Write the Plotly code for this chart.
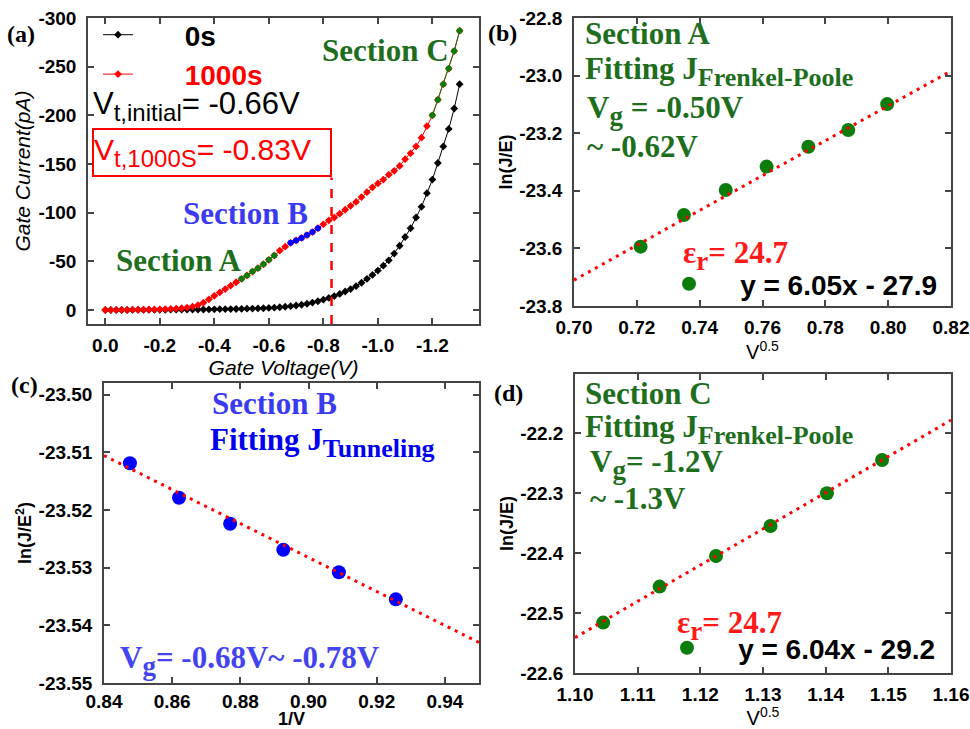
import plotly.graph_objects as go

# ---------------- data ----------------
# (a) gate current vs gate voltage
gate_voltage = [0.00, -0.02, -0.04, -0.06, -0.08, -0.10, -0.12, -0.14, -0.16, -0.18,
                -0.20, -0.22, -0.24, -0.26, -0.28, -0.30, -0.32, -0.34, -0.36, -0.38,
                -0.40, -0.42, -0.44, -0.46, -0.48, -0.50, -0.52, -0.54, -0.56, -0.58,
                -0.60, -0.62, -0.64, -0.66, -0.68, -0.70, -0.72, -0.74, -0.76, -0.78,
                -0.80, -0.82, -0.84, -0.86, -0.88, -0.90, -0.92, -0.94, -0.96, -0.98,
                -1.00, -1.02, -1.04, -1.06, -1.08, -1.10, -1.12, -1.14, -1.16, -1.18,
                -1.20, -1.22, -1.24, -1.26, -1.28, -1.30]
current_0s = [0.0, 0.0, 0.0, 0.0, 0.0, -0.1, -0.1, -0.1, -0.1, -0.2,
              -0.2, -0.2, -0.3, -0.3, -0.3, -0.4, -0.4, -0.5, -0.5, -0.6,
              -0.7, -0.8, -0.8, -0.9, -1.0, -1.1, -1.3, -1.4, -1.6, -1.8,
              -2.1, -2.4, -2.8, -3.3, -3.9, -4.6, -5.4, -6.4, -7.6, -9.0,
              -10.6, -12.4, -14.3, -16.5, -19.0, -21.5, -24.5, -28.0, -32.0, -36.0,
              -40.5, -45.5, -51.0, -58.0, -66.0, -75.0, -84.0, -95.0, -106.0, -120.0,
              -134.0, -151.0, -168.0, -186.0, -207.0, -232.0]
current_1000s = [0.0, -0.1, -0.1, -0.2, -0.2, -0.3, -0.3, -0.4, -0.5, -0.6,
                 -0.7, -0.9, -1.1, -1.4, -1.8, -2.5, -3.5, -5.0, -7.5, -11.0,
                 -14.5, -18.0, -21.5, -25.0, -28.5, -32.0, -35.5, -39.5, -43.0, -47.0,
                 -51.5, -56.0, -61.0, -65.0, -69.0, -71.5, -74.0, -77.0, -80.0, -84.0,
                 -88.0, -92.0, -95.0, -99.0, -103.0, -107.0, -111.0, -116.0, -121.0, -126.0,
                 -130.0, -134.0, -139.0, -143.0, -148.0, -155.0, -161.0, -168.0, -177.0, -189.0,
                 -200.0, -216.0, -232.0, -248.0, -266.0, -287.0]
section_a_range = (-0.50, -0.62)
section_b_range = (-0.68, -0.78)
section_c_range = (-1.20, -1.30)
vt_1000s = -0.83

# (b) Section A, Frenkel-Poole
b_x = [0.7212, 0.7350, 0.7483, 0.7613, 0.7746, 0.7873, 0.7997]
b_y = [-23.594, -23.484, -23.397, -23.316, -23.247, -23.189, -23.099]
b_slope, b_intercept = 6.05, -27.945

# (c) Section B, tunneling
c_x = [0.8476, 0.8620, 0.8770, 0.8926, 0.9089, 0.9256]
c_y = [-23.5119, -23.5179, -23.5224, -23.5269, -23.5308, -23.5355]
c_slope, c_intercept = -0.2945, -23.2632

# (d) Section C, Frenkel-Poole
d_x = [1.1045, 1.1135, 1.1225, 1.1312, 1.1402, 1.1490]
d_y = [-22.516, -22.456, -22.405, -22.355, -22.3005, -22.245]
d_slope, d_intercept = 6.04, -29.185

# tick labels
a_xticks = [0.0, -0.2, -0.4, -0.6, -0.8, -1.0, -1.2]
a_xtext = ["0.0", "-0.2", "-0.4", "-0.6", "-0.8", "-1.0", "-1.2"]
a_yticks = [0, -50, -100, -150, -200, -250, -300]
a_ytext = ["0", "-50", "-100", "-150", "-200", "-250", "-300"]
b_xticks = [0.70, 0.72, 0.74, 0.76, 0.78, 0.80, 0.82]
b_xtext = ["0.70", "0.72", "0.74", "0.76", "0.78", "0.80", "0.82"]
b_yticks = [-23.8, -23.6, -23.4, -23.2, -23.0, -22.8]
b_ytext = ["-23.8", "-23.6", "-23.4", "-23.2", "-23.0", "-22.8"]
c_xticks = [0.84, 0.86, 0.88, 0.90, 0.92, 0.94]
c_xtext = ["0.84", "0.86", "0.88", "0.90", "0.92", "0.94"]
c_yticks = [-23.55, -23.54, -23.53, -23.52, -23.51, -23.50]
c_ytext = ["-23.55", "-23.54", "-23.53", "-23.52", "-23.51", "-23.50"]
d_xticks = [1.10, 1.11, 1.12, 1.13, 1.14, 1.15, 1.16]
d_xtext = ["1.10", "1.11", "1.12", "1.13", "1.14", "1.15", "1.16"]
d_yticks = [-22.6, -22.5, -22.4, -22.3, -22.2]
d_ytext = ["-22.6", "-22.5", "-22.4", "-22.3", "-22.2"]

# ---------------- styling helpers ----------------
W, H = 970, 729
SANS = "Liberation Sans, Arial, sans-serif"
SERIF = "Liberation Serif, Times New Roman, serif"
GREEN_M = "#0c7d0c"
GREEN_T = "#1e6e1e"
BLUE_M = "#0000ff"
RED = "#ff0000"


def px(x):
    return x / W


def py(y):
    return 1 - y / H


def sub(t, size):
    return "<sub><span style='font-size:%dpx'>%s</span></sub>" % (size, t)


a_xrange = [0.0635, -1.371]
a_yrange = [14.4, -300]
b_xrange = [0.70, 0.82]
b_yrange = [-23.8, -22.8]
c_xrange = [0.84, 0.95]
c_yrange = [-23.55, -23.498]
d_xrange = [1.10, 1.16]
d_yrange = [-22.6, -22.1017]

fig = go.Figure()


def in_range(v, r):
    lo, hi = min(r), max(r)
    return lo - 1e-9 <= v <= hi + 1e-9


# ---- panel (a)
fig.add_trace(go.Scatter(
    x=gate_voltage, y=current_0s, mode="lines+markers",
    name="\u00a0" * 6 + "<b>0s</b>",
    line=dict(color="black", width=1),
    marker=dict(symbol="diamond", size=6, color="black"),
    xaxis="x", yaxis="y", legend="legend"))
fig.add_trace(go.Scatter(
    x=gate_voltage, y=current_1000s, mode="lines+markers",
    name="\u00a0" * 6 + "<b><span style='color:#ff0000'>1000s</span></b>",
    line=dict(color=RED, width=1),
    marker=dict(symbol="diamond", size=6, color=RED),
    xaxis="x", yaxis="y", legend="legend"))
for rng, col in [(section_a_range, GREEN_M), (section_b_range, BLUE_M), (section_c_range, GREEN_M)]:
    sx = [v for v in gate_voltage if in_range(v, rng)]
    sy = [i for v, i in zip(gate_voltage, current_1000s) if in_range(v, rng)]
    fig.add_trace(go.Scatter(
        x=sx, y=sy, mode="lines+markers", showlegend=False,
        line=dict(color=col, width=1),
        marker=dict(symbol="circle", size=6, color=col),
        xaxis="x", yaxis="y"))

# ---- panel (b)
fig.add_trace(go.Scatter(
    x=b_x, y=b_y, mode="markers",
    name="\u00a0" * 4 + "<b>y = 6.05x - 27.9</b>",
    marker=dict(size=14, color=GREEN_M),
    xaxis="x2", yaxis="y2", legend="legend2"))
fig.add_trace(go.Scatter(
    x=b_xrange, y=[b_slope * v + b_intercept for v in b_xrange],
    mode="lines", showlegend=False,
    line=dict(color=RED, width=3, dash="3px,5px"),
    xaxis="x2", yaxis="y2"))

# ---- panel (c)
fig.add_trace(go.Scatter(
    x=c_x, y=c_y, mode="markers", showlegend=False,
    marker=dict(size=14, color=BLUE_M),
    xaxis="x3", yaxis="y3"))
fig.add_trace(go.Scatter(
    x=c_xrange, y=[c_slope * v + c_intercept for v in c_xrange],
    mode="lines", showlegend=False,
    line=dict(color=RED, width=3, dash="3px,5px"),
    xaxis="x3", yaxis="y3"))

# ---- panel (d)
fig.add_trace(go.Scatter(
    x=d_x, y=d_y, mode="markers",
    name="\u00a0" * 4 + "<b>y = 6.04x - 29.2</b>",
    marker=dict(size=14, color=GREEN_M),
    xaxis="x4", yaxis="y4", legend="legend3"))
fig.add_trace(go.Scatter(
    x=d_xrange, y=[d_slope * v + d_intercept for v in d_xrange],
    mode="lines", showlegend=False,
    line=dict(color=RED, width=3, dash="3px,5px"),
    xaxis="x4", yaxis="y4"))

tickfont = dict(family=SANS, size=19, color="black")


def bold(lst):
    return ["<b>" + s + "</b>" for s in lst]


def axis(domain, rng, tv, tt, anchor, title, standoff, tsize, xaxis=True, lstand=None):
    if lstand is None:
        lstand = 3 if xaxis else 6
    return dict(
        domain=domain, range=rng, tickvals=tv, ticktext=bold(tt), anchor=anchor,
        showline=True, linecolor="#444", linewidth=1.5, mirror="allticks",
        ticks="inside", ticklen=6, tickwidth=1.5, tickcolor="#444",
        showgrid=False, zeroline=False, tickfont=tickfont, automargin=False,
        ticklabelstandoff=lstand,
        title=dict(text=title, font=dict(family=SANS, size=tsize, color="black"),
                   standoff=standoff))


fig.update_layout(
    width=W, height=H, margin=dict(l=0, r=0, t=0, b=0, autoexpand=False),
    paper_bgcolor="white", plot_bgcolor="white",
    xaxis=axis([px(88), px(479)], a_xrange, a_xticks, a_xtext, "y",
               "<i>Gate Voltage(V)</i>", 0, 21),
    yaxis=axis([py(324), py(18)], a_yrange, a_yticks, a_ytext, "x",
               "<i>Gate Current(pA)</i>", 2, 21, False),
    xaxis2=axis([px(574), px(951)], b_xrange, b_xticks, b_xtext, "y2", "V<sup>0.5</sup>", 0, 20),
    yaxis2=axis([py(306), py(18)], b_yrange, b_yticks, b_ytext, "x2", "<b>ln(J/E)</b>", 2, 18, False),
    xaxis3=axis([px(104), px(479)], c_xrange, c_xticks, c_xtext, "y3", "<b>1/V</b>", 0, 18, lstand=0),
    yaxis3=axis([py(683), py(383)], c_yrange, c_yticks, c_ytext, "x3",
                "<b>ln(J/E<sup>2</sup>)</b>", 2, 18, False),
    xaxis4=axis([px(575), px(951)], d_xrange, d_xticks, d_xtext, "y4", "V<sup>0.5</sup>", 0, 20),
    yaxis4=axis([py(673), py(374)], d_yrange, d_yticks, d_ytext, "x4", "<b>ln(J/E)</b>", 2, 18, False),
    legend=dict(x=px(98), y=py(10), xanchor="left", yanchor="top",
                font=dict(family=SANS, size=28, color="black"),
                bgcolor="rgba(0,0,0,0)", tracegroupgap=0),
    legend2=dict(x=px(669), y=py(284), xanchor="left", yanchor="middle",
                 font=dict(family=SANS, size=28, color="black"),
                 bgcolor="rgba(0,0,0,0)"),
    legend3=dict(x=px(667), y=py(648), xanchor="left", yanchor="middle",
                 font=dict(family=SANS, size=28, color="black"),
                 bgcolor="rgba(0,0,0,0)"),
)

# dashed threshold line in (a)
fig.add_shape(type="line", xref="x", yref="y", x0=vt_1000s, x1=vt_1000s,
              y0=a_yrange[0], y1=-136, line=dict(color=RED, width=2.5, dash="dash"))


def ann(text, x, y, size, color, family=SERIF, xanchor="left", yanchor="middle", isbold=True, **kw):
    if isbold:
        text = "<b>" + text + "</b>"
    fig.add_annotation(text=text, x=px(x), y=py(y), xref="paper", yref="paper",
                       xanchor=xanchor, yanchor=yanchor, showarrow=False,
                       font=dict(family=family, size=size, color=color), **kw)


# panel letters
ann("(a)", 5, 34, 24, "black")
ann("(b)", 486, 33, 24, "black")
ann("(c)", 9, 385, 24, "black")
ann("(d)", 492, 393, 24, "black")

# panel (a) texts
ann("V" + sub("t,initial", 24) + "= -0.66V", 91, 106, 31, "black", family=SANS, isbold=False)
fig.add_annotation(text="V" + sub("t,1000S", 24) + "= -0.83V",
                   x=px(92), y=py(128),
                   xref="paper", yref="paper", xanchor="left", yanchor="top",
                   showarrow=False, width=236, height=45, align="left",
                   bordercolor=RED, borderwidth=2, borderpad=0,
                   font=dict(family=SANS, size=30, color=RED))
ann("Section C", 385, 50, 31, GREEN_T, xanchor="center")
ann("Section B", 245, 213, 31, "#3a3af0", xanchor="center")
ann("Section A", 178, 260, 31, GREEN_T, xanchor="center")

# panel (b) texts
ann("Section A", 583, 34, 31, GREEN_T)
ann("Fitting J" + sub("Frenkel-Poole", 26), 583, 71, 31, GREEN_T)
ann("V" + sub("g", 27) + " = -0.50V", 585, 111, 31, GREEN_T)
ann("~ -0.62V", 585, 147, 31, GREEN_T)
ann("ε" + sub("r", 27) + "= 24.7", 681, 255, 31, "#ff1a1a")

# panel (c) texts
ann("Section B", 274, 403, 31, "#3a3af0", xanchor="center")
ann("Fitting J" + sub("Tunneling", 26), 208, 442, 31, "#0000ee")
ann("V" + sub("g", 27) + "= -0.68V~ -0.78V", 118, 660, 31, "#4444ee")

# panel (d) texts
ann("Section C", 583, 394, 31, GREEN_T)
ann("Fitting J" + sub("Frenkel-Poole", 26), 583, 429, 31, GREEN_T)
ann("V" + sub("g", 27) + "= -1.2V", 588, 464, 31, GREEN_T)
ann("~ -1.3V", 588, 498, 31, GREEN_T)
ann("ε" + sub("r", 27) + "= 24.7", 675, 625, 31, "#ff1a1a")

fig.write_html("out.html", config={"displayModeBar": False},
               post_script="document.body.style.margin='0';")
